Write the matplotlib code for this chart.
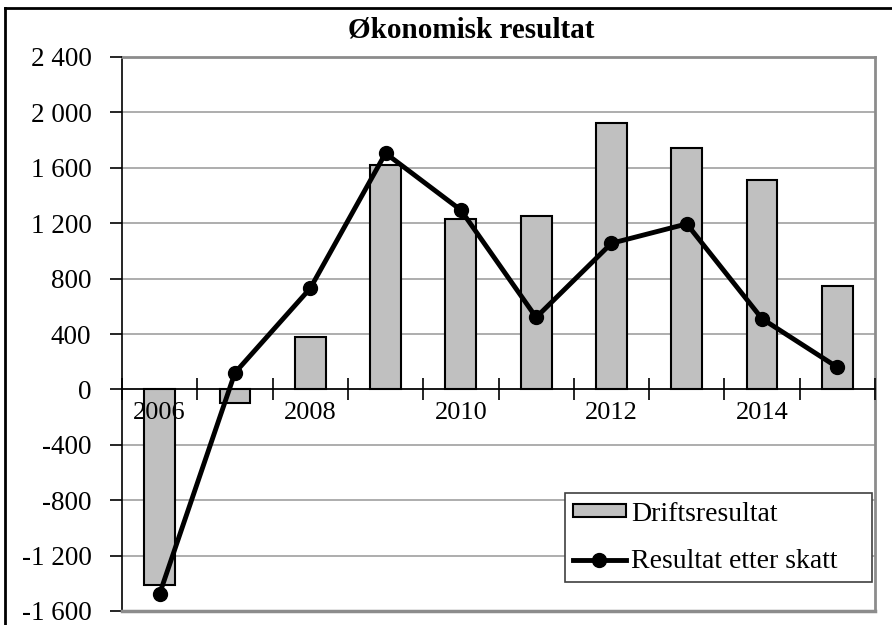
import matplotlib
matplotlib.use('Agg')
import matplotlib.pyplot as plt
import numpy as np
from matplotlib.lines import Line2D
from matplotlib.ticker import FuncFormatter

years = [2006, 2007, 2008, 2009, 2010, 2011, 2012, 2013, 2014, 2015]
driftsresultat = [-1410, -100, 375, 1620, 1230, 1250, 1925, 1740, 1515, 750]
etter_skatt = [-1475, 120, 730, 1705, 1295, 520, 1055, 1195, 510, 160]
yticks = [-1600, -1200, -800, -400, 0, 400, 800, 1200, 1600, 2000, 2400]

plt.rcParams['font.family'] = ['Liberation Serif', 'DejaVu Serif']

fig = plt.figure(figsize=(8.92, 6.25), dpi=100)
ax = fig.add_axes([122/892, 14/625, 753/892, 554/625])

x = np.arange(len(years))
bars = ax.bar(x, driftsresultat, width=0.41, color='#c0c0c0', edgecolor='black', linewidth=1.5,
              label='Driftsresultat', zorder=2)
line, = ax.plot(x, etter_skatt, color='black', linewidth=3.5, marker='o', markersize=10,
                label='Resultat etter skatt', zorder=4)

ax.set_xlim(-0.5, len(years) - 0.5)
ax.set_ylim(-1600, 2400)
ax.set_yticks(yticks)
ax.yaxis.set_major_formatter(FuncFormatter(lambda v, p: '{:,}'.format(int(v)).replace(',', ' ')))
# gitterlinjer bak stolpene
for yv in yticks[1:]:
    ax.axhline(yv, color='#a0a0a0', linewidth=1.2, zorder=1)
ax.set_axisbelow(False)

# x-akse ved 0, ticks mellom kategoriene
ax.spines['bottom'].set_position(('data', 0))
ax.spines['bottom'].set_color('black')
ax.spines['bottom'].set_linewidth(1.2)
ax.set_xticks(np.arange(-0.5, len(years), 1.0))
ax.set_xticklabels([])
ax.tick_params(axis='x', which='major', direction='inout', length=16, width=1.2)
ax.set_xticks(x[::2], minor=True)
ax.set_xticklabels([str(y) for y in years[::2]], minor=True)
ax.tick_params(axis='x', which='minor', length=0, pad=9, labelsize=19)

ax.spines['left'].set_color('black')
ax.spines['left'].set_linewidth(1.2)
ax.tick_params(axis='y', direction='out', length=9, width=1.2, labelsize=19.5, pad=13)
for s in ['top', 'right']:
    ax.spines[s].set_color('#8c8c8c')
    ax.spines[s].set_linewidth(2)
ax.axhline(-1600, color='#8c8c8c', linewidth=2.5, clip_on=False, zorder=5)

leg = ax.legend([bars, line], ['Driftsresultat', 'Resultat etter skatt'],
                loc='lower left', bbox_to_anchor=(0.588, 0.052, 0.408, 0.16),
                mode='expand', fontsize=20,
                fancybox=False, edgecolor='#404040', framealpha=1,
                handlelength=1.9, handleheight=0.35, handletextpad=0.18,
                borderpad=0.3, labelspacing=0.8, borderaxespad=0)
leg.get_frame().set_linewidth(1.2)
leg.set_zorder(6)

fig.text(471/892, 1 - 37/625, 'Økonomisk resultat', ha='center', va='baseline',
         fontsize=21, fontweight='bold')

# ramme rundt diagrammet (venstre og topp)
fig.add_artist(Line2D([5/892, 1], [1 - 8/625, 1 - 8/625], color='black', linewidth=2))
fig.add_artist(Line2D([5/892, 5/892], [0, 1 - 8/625], color='black', linewidth=2))

fig.savefig('out.png', dpi=100)
